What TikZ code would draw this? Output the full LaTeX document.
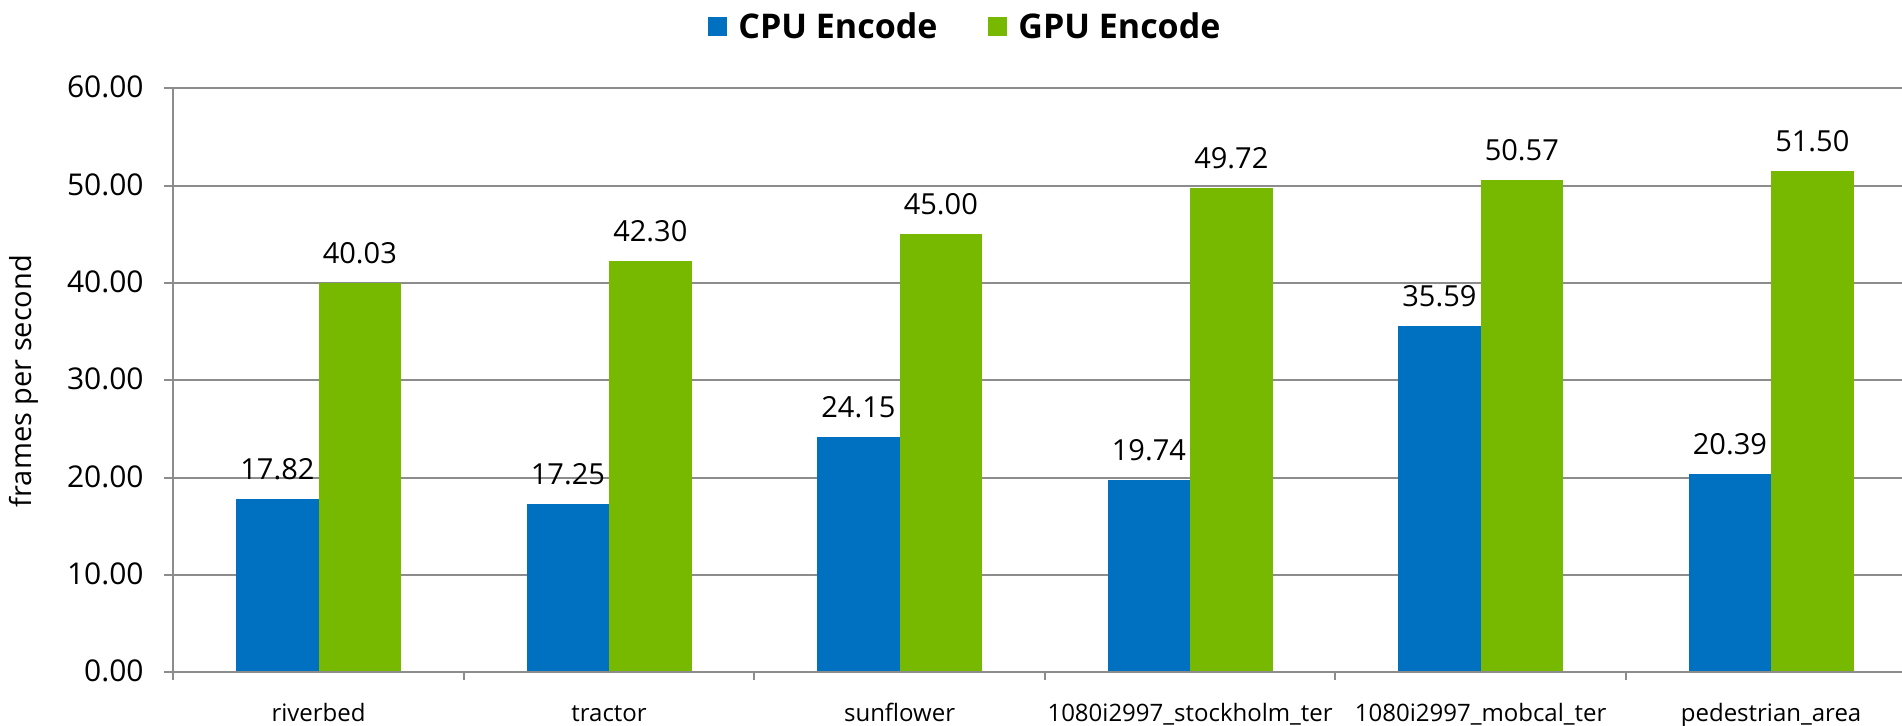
\documentclass[tikz,border=0pt]{standalone}
\usepackage{fontspec}
\setmainfont{Open Sans}
\definecolor{cpublue}{HTML}{0070C0}
\definecolor{gpugreen}{HTML}{76B900}
\definecolor{gridgray}{HTML}{8C8C8C}
\begin{document}
\begin{tikzpicture}[x=0.5pt,y=-0.5pt,
  gridline/.style={draw=gridgray,line width=1pt},
  vallabel/.style={font=\fontsize{14.5}{17}\selectfont,anchor=base,inner sep=0pt},
  ticklabel/.style={font=\fontsize{15}{18}\selectfont,anchor=east,inner sep=0pt},
  catlabel/.style={font=\fontsize{12}{14}\selectfont,anchor=base,inner sep=0pt},
  axislabel/.style={font=\fontsize{14.5}{17}\selectfont,anchor=base,inner sep=0pt,rotate=90},
  legendtext/.style={font=\bfseries\fontsize{17}{20}\selectfont,anchor=base west,inner sep=0pt}]
\useasboundingbox (0,0) rectangle (1902,725);

% horizontal gridlines and value scale
\foreach \v in {10,20,...,60}{
  \draw[gridline] (164,{672.3-9.733*\v}) -- (1902,{672.3-9.733*\v});
}
\foreach \v in {0,10,...,60}{
  \node[ticklabel] (tick\v) at (144,{672.3-9.733*\v-1}) {\v.00};
}

% bars, value labels and category names
\foreach \k/\name/\cpu/\gpu in {
    0/riverbed/17.82/40.03,
    1/tractor/17.25/42.30,
    2/sunflower/24.15/45.00,
    3/1080i2997\_stockholm\_ter/19.74/49.72,
    4/1080i2997\_mobcal\_ter/35.59/50.57,
    5/pedestrian\_area/20.39/51.50}{
  \pgfmathsetmacro\c{318.6+290.5*\k}
  \fill[cpublue] ({\c-82.4},672.3) rectangle (\c,{672.3-9.733*\cpu});
  \fill[gpugreen] (\c,672.3) rectangle ({\c+82.4},{672.3-9.733*\gpu});
  \node[vallabel] (cpu\k) at ({\c-41.2},{672.3-9.733*\cpu-19.5}) {\cpu};
  \node[vallabel] (gpu\k) at ({\c+41.2},{672.3-9.733*\gpu-19.5}) {\gpu};
  \node[catlabel] (cat\k) at (\c,721) {\name};
}

% axes and category ticks
\draw[gridline] (164,672.3) -- (1902,672.3);
\draw[gridline] (173.3,88.3) -- (173.3,680);
\foreach \k in {1,...,5}{
  \draw[gridline] ({173.3+290.5*\k},672.3) -- ({173.3+290.5*\k},680);
}

\node[axislabel] (ylabel) at (32,381) {frames per second};

% legend
\fill[cpublue] (708,16.5) rectangle (727,35.7);
\node[legendtext] (legcpu) at (738,38) {CPU Encode};
\fill[gpugreen] (988,16.5) rectangle (1007,35.7);
\node[legendtext] (leggpu) at (1018,38) {GPU Encode};
\end{tikzpicture}
\end{document}
